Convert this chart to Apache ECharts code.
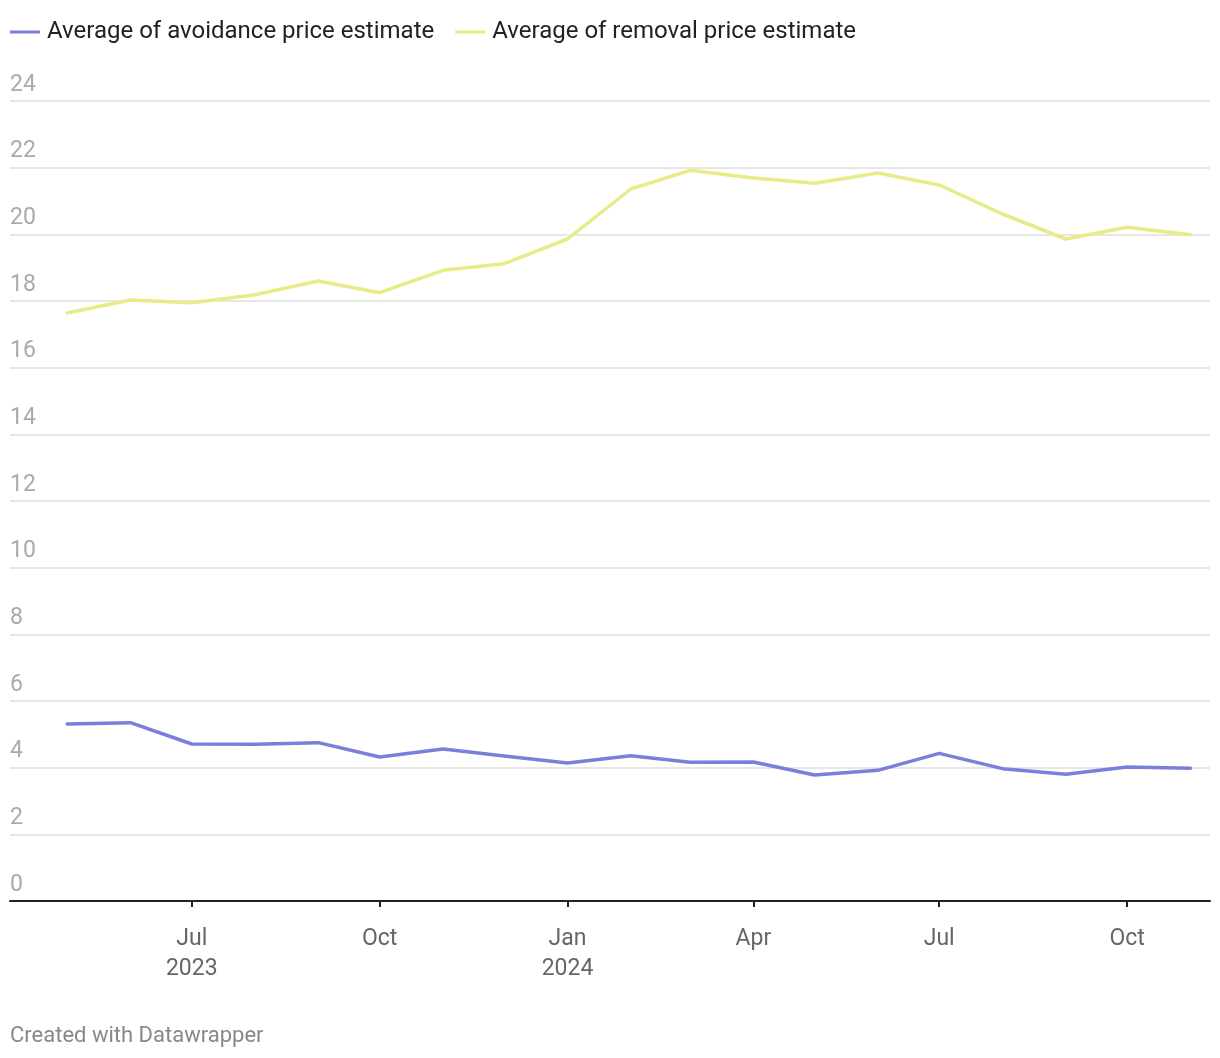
<!DOCTYPE html>
<html>
<head>
<meta charset="utf-8">
<script src="https://cdn.jsdelivr.net/npm/echarts@6/dist/echarts.min.js"></script>
<style>
html,body{margin:0;padding:0;background:#fff;}
#chart{width:1220px;height:1058px;}
</style>
</head>
<body>
<div id="chart"></div>
<script>
const months = ['2023-05','2023-06','2023-07','2023-08','2023-09','2023-10','2023-11','2023-12',
  '2024-01','2024-02','2024-03','2024-04','2024-05','2024-06','2024-07','2024-08','2024-09','2024-10','2024-11'];
const avoidance = [5.31,5.35,4.71,4.70,4.75,4.32,4.56,4.35,4.14,4.36,4.16,4.17,3.78,3.92,4.43,3.97,3.80,4.02,3.98];
const removal = [17.64,18.03,17.95,18.19,18.60,18.25,18.92,19.12,19.86,21.36,21.92,21.69,21.53,21.84,21.48,20.61,19.86,20.21,19.99];
const seriesNames = ['Average of avoidance price estimate','Average of removal price estimate'];
const tickMonths = ['2023-07','2023-10','2024-01','2024-04','2024-07','2024-10'];
const tickLabels = ['Jul\n2023','Oct','Jan\n2024','Apr','Jul','Oct'];
const yTicks = [0,2,4,6,8,10,12,14,16,18,20,22,24];

function ts(ym, d){ const p = ym.split('-'); return Date.UTC(+p[0], +p[1]-1, d||1); }
const tickValues = tickMonths.map(m => ts(m));

const chart = echarts.init(document.getElementById('chart'));
const font = 'Roboto, "Noto Sans", sans-serif';
chart.setOption({
  animation: false,
  backgroundColor: '#fff',
  textStyle: { fontFamily: font },
  legend: {
    left: 10, top: 20, padding: 0,
    icon: 'rect', itemWidth: 30, itemHeight: 3, itemGap: 21,
    textStyle: { fontSize: 24, color: '#222', fontFamily: font, padding: [0,0,0,2] },
    data: seriesNames
  },
  graphic: [{
    type: 'text', left: 10, top: 1025,
    style: { text: 'Created with Datawrapper', fontSize: 22, fill: '#888', fontFamily: font }
  }],
  grid: { left: 10, right: 10, top: 101, bottom: 157 },
  xAxis: {
    type: 'value',
    min: Date.UTC(2023, 3, 3),
    max: Date.UTC(2024, 10, 10, 14),
    axisLine: { show: true, onZero: false, lineStyle: { color: '#222', width: 2 } },
    axisTick: { show: true, customValues: tickValues, length: 6, lineStyle: { color: '#222', width: 2 } },
    axisLabel: {
      customValues: tickValues,
      color: '#666', fontSize: 23, lineHeight: 30, margin: 23, fontFamily: font,
      formatter: function (v) {
        let best = 0, bd = Infinity;
        tickValues.forEach((t, i) => { const d = Math.abs(t - v); if (d < bd) { bd = d; best = i; } });
        return tickLabels[best];
      }
    },
    splitLine: { show: false }
  },
  yAxis: {
    type: 'value', min: 0, max: 24, interval: 2,
    axisLine: { show: false }, axisTick: { show: false },
    axisLabel: {
      inside: true, margin: 0, align: 'left', verticalAlign: 'bottom',
      color: '#aaa', fontSize: 23, lineHeight: 24, padding: [0,0,4,0], fontFamily: font,
      formatter: v => yTicks.indexOf(v) >= 0 ? String(v) : ''
    },
    splitLine: { show: true, lineStyle: { color: '#e6e6e6', width: 2 } }
  },
  series: [
    {
      name: seriesNames[0], type: 'line', showSymbol: false, symbol: 'none',
      data: months.map((m, i) => [ts(m), avoidance[i]]),
      lineStyle: { color: '#7a7fdb', width: 3.5, cap: 'round', join: 'round' },
      itemStyle: { color: '#7a7fdb' }
    },
    {
      name: seriesNames[1], type: 'line', showSymbol: false, symbol: 'none',
      data: months.map((m, i) => [ts(m), removal[i]]),
      lineStyle: { color: '#e7eb88', width: 3.5, cap: 'round', join: 'round' },
      itemStyle: { color: '#e7eb88' }
    }
  ]
});
</script>
</body>
</html>
